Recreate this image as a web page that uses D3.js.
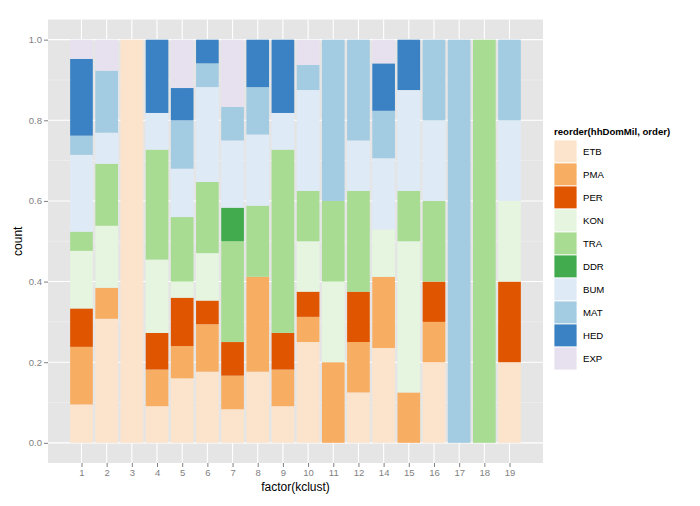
<!DOCTYPE html>
<html>
<head>
<meta charset="utf-8">
<script src="https://cdn.jsdelivr.net/npm/d3@7"></script>
<style>
  html, body { margin: 0; padding: 0; background: #fff; }
  svg { display: block; font-family: "Liberation Sans", Arial, sans-serif; }
</style>
</head>
<body>
<svg id="chart" width="700" height="506"></svg>
<script>
// ---- data (counts per cluster; drawn as proportions) ----
const categories = ["1","2","3","4","5","6","7","8","9","10","11","12","14","15","16","17","18","19"];
const groups = ["ETB","PMA","PER","KON","TRA","DDR","BUM","MAT","HED","EXP"];
const colors = ["#FCE4CC","#F8AE62","#E05500","#E5F5DF","#A8DC93","#41AB4D","#DFEAF7","#A3CBE2","#3A82C4","#E7E1EF"];
const ETB = [2,4,1,1,4,3,1,3,1,4,0,1,4,0,2,0,0,1];
const PMA = [3,1,0,1,2,2,1,4,1,1,1,1,3,1,1,0,0,0];
const PER = [2,0,0,1,3,1,1,0,1,1,0,1,0,0,1,0,0,1];
const KON = [3,2,0,2,1,2,0,0,0,2,1,0,2,3,0,0,0,1];
const TRA = [1,2,0,3,4,3,3,3,5,2,1,2,0,1,2,0,1,0];
const DDR = [0,0,0,0,0,0,1,0,0,0,0,0,0,0,0,0,0,0];
const BUM = [4,1,0,1,3,4,2,3,1,4,0,1,3,2,2,0,0,1];
const MAT = [1,2,0,0,3,1,1,2,0,1,2,2,2,0,2,1,0,1];
const HED = [4,0,0,2,2,1,0,2,2,0,0,0,2,1,0,0,0,0];
const EXP = [1,1,0,0,3,0,2,0,0,1,0,0,1,0,0,0,0,0];
const yTicks = [0, 0.2, 0.4, 0.6, 0.8, 1.0];
const yMinor = [0.1, 0.3, 0.5, 0.7, 0.9];
const series = {ETB, PMA, PER, KON, TRA, DDR, BUM, MAT, HED, EXP};

// ---- build table ----
const rows = categories.map((c, i) => {
  const r = {cat: c};
  let tot = 0;
  groups.forEach(g => { tot += series[g][i]; });
  groups.forEach(g => { r[g] = series[g][i] / tot; });
  return r;
});

const svg = d3.select("#chart");
const P = {left: 48, right: 543, top: 19.5, bottom: 463};

const x = d3.scalePoint().domain(categories).range([P.left, P.right]).padding(1.33);
const y = d3.scaleLinear().domain([-0.05, 1.05]).range([P.bottom, P.top]);
const color = d3.scaleOrdinal().domain(groups).range(colors);

// panel
svg.append("rect").attr("x", P.left).attr("y", P.top)
  .attr("width", P.right - P.left).attr("height", P.bottom - P.top).attr("fill", "#E5E5E5");

// grid
const grid = svg.append("g");
grid.selectAll(".ymin").data(yMinor).join("line")
  .attr("x1", P.left).attr("x2", P.right)
  .attr("y1", d => y(d)).attr("y2", d => y(d))
  .attr("stroke", "#F2F2F2").attr("stroke-width", 0.6);
grid.selectAll(".ymaj").data(yTicks).join("line")
  .attr("x1", P.left).attr("x2", P.right)
  .attr("y1", d => y(d)).attr("y2", d => y(d))
  .attr("stroke", "#FFFFFF").attr("stroke-width", 1.1);
grid.selectAll(".xmaj").data(categories).join("line")
  .attr("x1", d => x(d)).attr("x2", d => x(d))
  .attr("y1", P.top).attr("y2", P.bottom)
  .attr("stroke", "#FFFFFF").attr("stroke-width", 1.1);

// bars
const stack = d3.stack().keys(groups);
const stacked = stack(rows);
const bw = x.step() * 0.9;
const bars = svg.append("g");
stacked.forEach(layer => {
  bars.append("g").attr("fill", color(layer.key))
    .selectAll("rect").data(layer).join("rect")
    .attr("x", d => x(d.data.cat) - bw / 2)
    .attr("width", bw)
    .attr("y", d => y(d[1]))
    .attr("height", d => Math.max(0, y(d[0]) - y(d[1])));
});

// axes
const yAxis = d3.axisLeft(y).tickValues(yTicks).tickFormat(d3.format(".1f")).tickSize(4).tickPadding(2);
const gy = svg.append("g").attr("transform", `translate(${P.left},0)`).call(yAxis);
const xAxis = d3.axisBottom(x).tickSize(4).tickPadding(2);
const gx = svg.append("g").attr("transform", `translate(0,${P.bottom})`).call(xAxis);
[gy, gx].forEach(g => {
  g.select(".domain").remove();
  g.selectAll(".tick line").attr("stroke", "#7F7F7F");
  g.selectAll(".tick text").attr("fill", "#7F7F7F").style("font-size", "9.5px")
    .style("font-family", "'Liberation Sans', Arial, sans-serif");
});

// axis titles
svg.append("text").attr("x", (P.left + P.right) / 2).attr("y", 491)
  .attr("text-anchor", "middle").style("font-size", "12px").attr("fill", "#000")
  .text("factor(kclust)");
svg.append("text").attr("transform", `translate(22,${(P.top + P.bottom) / 2}) rotate(-90)`)
  .attr("text-anchor", "middle").style("font-size", "12px").attr("fill", "#000")
  .text("count");

// legend
const lg = svg.append("g").attr("transform", "translate(554,0)");
lg.append("text").attr("x", 0).attr("y", 135).style("font-size", "9.6px").style("font-weight", "bold")
  .text("reorder(hhDomMil, order)");
const keyH = 23;
const items = lg.selectAll(".key").data(groups).join("g")
  .attr("transform", (d, i) => `translate(0,${140 + i * keyH})`);
items.append("rect").attr("width", 23).attr("height", keyH)
  .attr("fill", d => color(d)).attr("stroke", "#FFFFFF").attr("stroke-width", 0.8);
items.append("text").attr("x", 29).attr("y", keyH / 2 + 3.5)
  .style("font-size", "9.6px").attr("fill", "#000").text(d => d);
</script>
</body>
</html>
